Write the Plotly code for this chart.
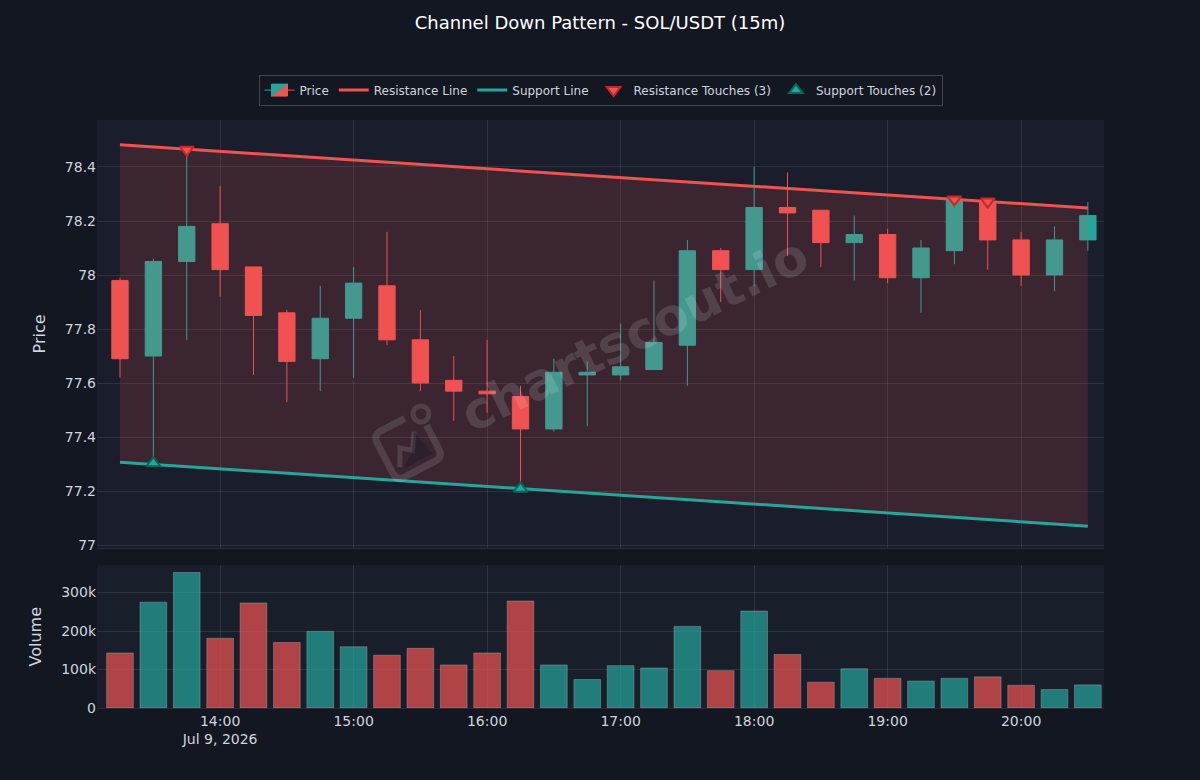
import plotly.graph_objects as go
from plotly.subplots import make_subplots
import pandas as pd
import numpy as np

# ---------------- data ----------------
times = pd.date_range("2026-07-09 13:15", "2026-07-09 20:30", freq="15min")
opens  = [77.98, 77.70, 78.05, 78.19, 78.03, 77.86, 77.69, 77.84, 77.96, 77.76,
          77.61, 77.57, 77.55, 77.43, 77.63, 77.63, 77.65, 77.74, 78.09, 78.02,
          78.25, 78.24, 78.12, 78.15, 77.99, 78.09, 78.27, 78.13, 78.00, 78.13]
highs  = [77.99, 78.06, 78.46, 78.33, 78.03, 77.87, 77.96, 78.03, 78.16, 77.87,
          77.70, 77.76, 77.59, 77.69, 77.68, 77.82, 77.98, 78.13, 78.10, 78.40,
          78.38, 78.24, 78.22, 78.17, 78.13, 78.28, 78.27, 78.16, 78.18, 78.27]
lows   = [77.62, 77.30, 77.76, 77.92, 77.63, 77.53, 77.57, 77.62, 77.74, 77.57,
          77.46, 77.49, 77.21, 77.42, 77.44, 77.61, 77.65, 77.59, 77.90, 77.96,
          78.07, 78.03, 77.98, 77.97, 77.86, 78.04, 78.02, 77.96, 77.94, 78.09]
closes = [77.69, 78.05, 78.18, 78.02, 77.85, 77.68, 77.84, 77.97, 77.76, 77.60,
          77.57, 77.56, 77.43, 77.64, 77.64, 77.66, 77.75, 78.09, 78.02, 78.25,
          78.23, 78.12, 78.15, 77.99, 78.10, 78.28, 78.13, 78.00, 78.13, 78.22]
volumes = [143000, 275000, 352000, 181000, 273000, 170000, 199000, 159000, 137000, 155000,
           112000, 143000, 278000, 112000, 74000, 110000, 104000, 212000, 97000, 252000,
           139000, 67000, 102000, 77000, 70000, 77000, 81000, 59000, 48000, 60000]

# channel lines (start / end)
line_times = [times[0], times[-1]]
resistance = [78.482, 78.248]
support = [77.307, 77.070]

# touches
res_touch_times = [times[2], times[25], times[26]]
res_touch_vals = [78.464, 78.280, 78.272]
sup_touch_times = [times[1], times[12]]
sup_touch_vals = [77.303, 77.209]

UP = "#26a69a"
DOWN = "#ef5350"
BG = "#131722"
PLOT_BG = "#1a1e2c"
TXT = "#d1d4dc"
GRID = "rgba(255,255,255,0.09)"

fig = make_subplots(rows=2, cols=1, shared_xaxes=True,
                    row_heights=[0.75, 0.25], vertical_spacing=0.03)

fig.add_trace(go.Candlestick(
    x=times, open=opens, high=highs, low=lows, close=closes, name="Price",
    increasing=dict(line=dict(color=UP, width=1), fillcolor=UP),
    decreasing=dict(line=dict(color=DOWN, width=1), fillcolor=DOWN),
), row=1, col=1)

# channel fill
fig.add_trace(go.Scatter(
    x=[line_times[0], line_times[1], line_times[1], line_times[0], line_times[0]],
    y=[resistance[0], resistance[1], support[1], support[0], resistance[0]],
    fill="toself", fillcolor="rgba(239,83,80,0.15)", mode="none",
    showlegend=False, hoverinfo="skip"), row=1, col=1)

fig.add_trace(go.Scatter(x=line_times, y=resistance, mode="lines", name="Resistance Line",
                         line=dict(color=DOWN, width=3)), row=1, col=1)
fig.add_trace(go.Scatter(x=line_times, y=support, mode="lines", name="Support Line",
                         line=dict(color=UP, width=3)), row=1, col=1)
fig.add_trace(go.Scatter(x=res_touch_times, y=res_touch_vals, mode="markers",
                         name="Resistance Touches (3)",
                         marker=dict(symbol="triangle-down", size=12, color=DOWN,
                                     line=dict(color="#c62828", width=2))), row=1, col=1)
fig.add_trace(go.Scatter(x=sup_touch_times, y=sup_touch_vals, mode="markers",
                         name="Support Touches (2)",
                         marker=dict(symbol="triangle-up", size=12, color=UP,
                                     line=dict(color="#00695c", width=2))), row=1, col=1)

vol_colors = [UP if c >= o else DOWN for o, c in zip(opens, closes)]
fig.add_trace(go.Bar(x=times, y=volumes, marker=dict(color=vol_colors,
                     line=dict(color="rgba(255,255,255,0.35)", width=1)),
                     opacity=0.7, showlegend=False, name="Volume"), row=2, col=1)

fig.update_layout(
    width=1200, height=780,
    paper_bgcolor=BG, plot_bgcolor=PLOT_BG,
    font=dict(family="DejaVu Sans", color=TXT, size=12),
    title=dict(text="Channel Down Pattern - SOL/USDT (15m)", x=0.5, xanchor="center",
               y=0.971, yanchor="middle", font=dict(size=18, color="#ffffff")),
    margin=dict(l=97, r=96, t=120, b=72),
    legend=dict(orientation="h", x=0.5, xanchor="center", y=1.0245, yanchor="bottom",
                bgcolor=BG, bordercolor="rgba(255,255,255,0.2)", borderwidth=1,
                font=dict(size=12, color=TXT)),
    showlegend=True,
    bargap=0.2,
)

xr = ["2026-07-09 13:04:40", "2026-07-09 20:37:15"]
fig.update_xaxes(range=xr, gridcolor=GRID, showgrid=True, zeroline=False,
                 dtick=3600000, tickfont=dict(size=14, color=TXT),
                 rangeslider=dict(visible=False), linecolor=GRID)
fig.update_yaxes(gridcolor=GRID, zeroline=False, tickfont=dict(size=14, color=TXT))
fig.update_yaxes(range=[76.99, 78.574], dtick=0.2, title=dict(text="Price", font=dict(size=16)),
                 row=1, col=1)
fig.update_yaxes(range=[0, 370400], dtick=100000, title=dict(text="Volume", font=dict(size=16)),
                 row=2, col=1)

# watermark text
fig.add_annotation(text="chartscout.io", xref="paper", yref="paper", x=0.534, y=0.636,
                   showarrow=False, textangle=-26,
                   font=dict(family="DejaVu Sans", size=51, color="rgba(255,255,255,0.13)",
                             weight="bold"))

# watermark logo (decoration, drawn in pixel space then converted to paper coords)
PL, PR, PT, PB = 97, 1104, 120, 708
def to_paper(px, py):
    return (px - PL) / (PR - PL), (PB - py) / (PB - PT)

cx, cy, h, rr = 408.0, 446.0, 26.0, 9.0
phi = np.deg2rad(-27.5)
e1 = np.array([np.cos(phi), np.sin(phi)])
e2 = np.array([-np.sin(phi), np.cos(phi)])
def loc(u, v):
    p = np.array([cx, cy]) + u * e1 + v * e2
    return to_paper(p[0], p[1])
def fmt(pt):
    return f"{pt[0]:.5f},{pt[1]:.5f}"
pts = [
    ("M", [(h - 16, -h)]),
    ("L", [(-h + rr, -h)]),
    ("Q", [(-h, -h), (-h, -h + rr)]),
    ("L", [(-h, h - rr)]),
    ("Q", [(-h, h), (-h + rr, h)]),
    ("L", [(h - rr, h)]),
    ("Q", [(h, h), (h, h - rr)]),
    ("L", [(h, -h + 16)]),
]
path = " ".join(cmd + " " + " ".join(fmt(loc(u, v)) for u, v in ps) for cmd, ps in pts)
WM = "rgba(255,255,255,0.12)"
fig.add_shape(type="path", path=path, xref="paper", yref="paper",
              line=dict(color=WM, width=7))
zig = [(-h + 9, h - 11), (-8, -2), (2, 6), (12, -10)]
zpath = "M " + " L ".join(fmt(loc(u, v)) for u, v in zig)
fig.add_shape(type="path", path=zpath, xref="paper", yref="paper",
              line=dict(color=WM, width=5))
mount = [(2, 6), (12, -10), (h - 8, h - 8), (-h + 12, h - 8)]
mpath = "M " + " L ".join(fmt(loc(u, v)) for u, v in mount) + " Z"
fig.add_shape(type="path", path=mpath, xref="paper", yref="paper",
              fillcolor="rgba(20,24,36,0.35)", line=dict(width=0))
ccx, ccy = 421.0, 414.0
c0 = to_paper(ccx - 8, ccy + 8)
c1 = to_paper(ccx + 8, ccy - 8)
fig.add_shape(type="circle", xref="paper", yref="paper", x0=c0[0], y0=c0[1],
              x1=c1[0], y1=c1[1], line=dict(color=WM, width=5))

fig.write_html("out.html")
